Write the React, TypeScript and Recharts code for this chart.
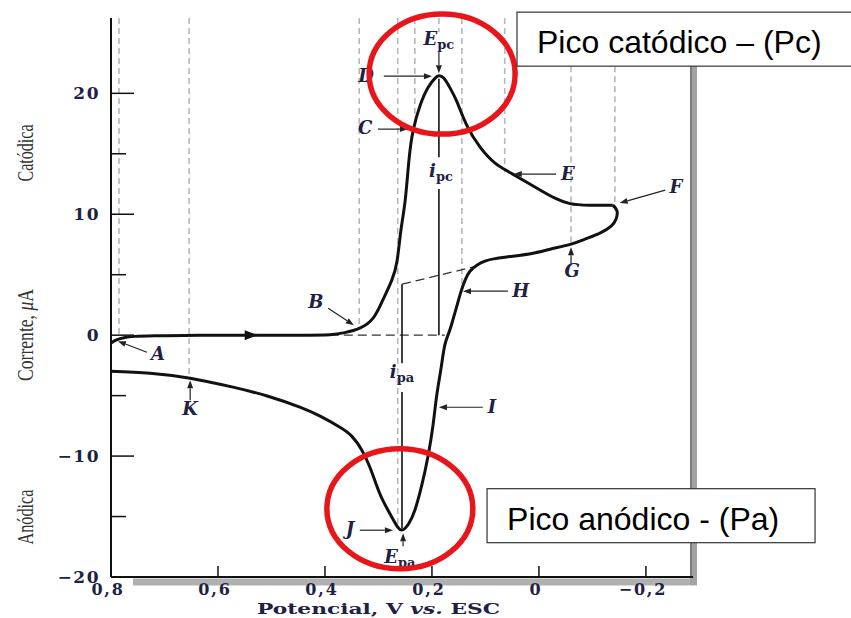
import { ComposedChart, Line, XAxis, YAxis, ReferenceLine, ReferenceDot } from 'recharts'

// varredura direta (catódica), de 0,8 V até o potencial de inversão
const potencialIda = [0.8, 0.791, 0.776, 0.755, 0.708, 0.634, 0.537, 0.447, 0.391, 0.363, 0.335, 0.31, 0.292, 0.275, 0.265, 0.258, 0.25, 0.243, 0.235, 0.222, 0.207, 0.194, 0.187, 0.178, 0.166, 0.153, 0.135, 0.11, 0.082, 0.049, -0.002, -0.03, -0.058, -0.095, -0.138]
const correnteIda = [-0.66, -0.41, -0.21, -0.1, -0.05, 0, 0, 0, 0.04, 0.21, 0.58, 1.41, 2.89, 4.55, 6.2, 8.68, 11.17, 14.48, 16.96, 19.02, 20.51, 21.26, 21.46, 21.26, 20.43, 19.27, 17.37, 15.55, 14.23, 13.32, 12.01, 11.33, 10.88, 10.75, 10.75]

// varredura inversa (anódica), de volta até 0,8 V
const potencialVolta = [-0.138, -0.146, -0.144, -0.135, -0.114, -0.086, -0.06, -0.021, 0.011, 0.049, 0.082, 0.101, 0.116, 0.129, 0.138, 0.146, 0.153, 0.161, 0.168, 0.176, 0.183, 0.191, 0.198, 0.207, 0.219, 0.232, 0.243, 0.254, 0.264, 0.277, 0.292, 0.305, 0.316, 0.331, 0.35, 0.372, 0.409, 0.447, 0.508, 0.572, 0.652, 0.727, 0.8]
const correnteVolta = [10.75, 10.26, 9.59, 9.02, 8.44, 7.94, 7.53, 7.11, 6.78, 6.53, 6.33, 6.12, 5.79, 5.29, 4.55, 3.56, 2.48, 1.24, 0.25, -0.83, -2.73, -4.96, -7.44, -9.93, -12.41, -14.48, -15.55, -16.09, -15.88, -14.89, -13.65, -12.24, -10.92, -9.51, -8.35, -7.61, -6.7, -5.95, -5.03, -4.3, -3.56, -3.14, -2.98]

const xTicks = [0.8, 0.6, 0.4, 0.2, 0, -0.2]
const xTickLabels = ['0,8', '0,6', '0,4', '0,2', '0', '\u22120,2']
const yTicks = [-20, -15, -10, -5, 0, 5, 10, 15, 20]
const yTickLabels: Record<number, string> = { '-20': '\u221220', '-10': '\u221210', 0: '0', 10: '10', 20: '20' }

const X_MIN = -0.288
const X_MAX = 0.8
const Y_MIN = -20
const Y_MAX = 26.23

const ida = potencialIda.map((v, k) => ({ v, i: correnteIda[k] }))
const volta = potencialVolta.map((v, k) => ({ v, i: correnteVolta[k] }))

// linhas-guia verticais tracejadas: [potencial, corrente onde terminam, topo]
const guias: [number, number, number][] = [
    [0.785, 0, Y_MAX],
    [0.654, -3.39, Y_MAX],
    [0.336, 0.83, Y_MAX],
    [0.264, -15.88, Y_MAX],
    [0.232, 17.95, Y_MAX],
    [0.187, 25.06, Y_MAX],
    [0.144, 3.72, Y_MAX],
    [0.064, 13.48, Y_MAX],
    [-0.06, 7.53, 22.25],
    [-0.142, 10.75, 22.25],
]

// setas: [v origem, i origem, v ponta, i ponta]
const setas: [number, number, number, number][] = [
    [0.733, -1.41, 0.787, -0.5],
    [0.652, -5.38, 0.652, -3.72],
    [0.394, 2.23, 0.346, 0.83],
    [0.301, 17.04, 0.245, 17.04],
    [0.29, 21.42, 0.2, 21.42],
    [0.187, 23.41, 0.187, 21.67],
    [-0.032, 13.32, 0.047, 13.32],
    [-0.236, 11.99, -0.151, 10.92],
    [-0.06, 5.87, -0.06, 7.28],
    [0.058, 3.64, 0.142, 3.64],
    [0.105, -5.96, 0.187, -5.96],
    [0.335, -16.13, 0.273, -16.13],
    [0.254, -17.45, 0.254, -16.38],
]

const letras = ['A', 'K', 'B', 'C', 'D', 'E', 'F', 'G', 'H', 'I', 'J']
const letrasV = [0.712, 0.652, 0.417, 0.325, 0.323, -0.054, -0.256, -0.062, 0.034, 0.088, 0.353]
const letrasI = [-2.07, -6.62, 2.23, 16.63, 20.93, 12.82, 11.75, 4.8, 3.14, -6.45, -16.54]

// rótulos de pico: [símbolo, índice, v, i]
const picos: [string, string, number, number][] = [
    ['E', 'pc', 0.187, 23.99],
    ['i', 'pc', 0.183, 13.07],
    ['i', 'pa', 0.256, -3.56],
    ['E', 'pa', 0.26, -18.86],
]

const INK = '#1d2142'
const SERIF = '"DejaVu Serif", "Liberation Serif", serif'

const Arrow = (p: any) => {
    const { x1, y1, x2, y2 } = p
    const a = Math.atan2(y2 - y1, x2 - x1)
    const bx = x2 - 8 * Math.cos(a)
    const by = y2 - 8 * Math.sin(a)
    const s = Math.sin(a) * 3
    const c = Math.cos(a) * 3
    return (
        <g>
            <line x1={x1} y1={y1} x2={bx} y2={by} stroke="#222" strokeWidth={1.2} />
            <polygon points={`${x2},${y2} ${bx - s},${by + c} ${bx + s},${by - c}`} fill="#222" />
        </g>
    )
}

const YTick = ({ x, y, payload }: any) => {
    const major = payload.value % 10 === 0
    return (
        <g>
            <line x1={x} x2={x + (major ? 23 : 15)} y1={y} y2={y} stroke="#111" strokeWidth={1.5} />
            {major && (
                <text x={x - 11} y={y + 6} textAnchor="end" fontFamily={SERIF} fontWeight="bold" fontSize={17} letterSpacing={1.5} fill={INK}>
                    {yTickLabels[payload.value]}
                </text>
            )}
        </g>
    )
}

const XTick = ({ x, y, payload, index }: any) => (
    <g>
        {payload.value !== X_MAX && <line x1={x} x2={x} y1={y} y2={y - 11} stroke="#111" strokeWidth={1.5} />}
        <text x={x - 3} y={y + 18} textAnchor="middle" fontFamily={SERIF} fontWeight="bold" fontSize={16} letterSpacing={1.8} fill={INK}>
            {xTickLabels[index]}
        </text>
    </g>
)

const YTitles = ({ viewBox }: any) => {
    const top = viewBox?.y ?? 18
    const common = { fontFamily: '"Liberation Serif", serif', fontSize: 23, fill: '#333', textAnchor: 'middle' as const, lengthAdjust: 'spacingAndGlyphs' }
    return (
        <g>
            <text {...common} transform={`translate(33 ${top + 135}) rotate(-90)`} textLength={57}>Catódica</text>
            <text {...common} transform={`translate(33 ${top + 317}) rotate(-90)`} textLength={92}>
                Corrente, <tspan fontStyle="italic">μ</tspan>A
            </text>
            <text {...common} transform={`translate(33 ${top + 499}) rotate(-90)`} textLength={55}>Anódica</text>
        </g>
    )
}

const XTitle = ({ viewBox }: any) => {
    const left = viewBox?.x ?? 111
    const top = viewBox?.y ?? 577
    return (
        <text x={left + 146} y={top + 37} fontFamily={SERIF} fontWeight="bold" fontSize={15} fill={INK} textLength={243} lengthAdjust="spacingAndGlyphs">
            Potencial, V <tspan fontStyle="italic">vs.</tspan> ESC
        </text>
    )
}

const ScanArrow = ({ cx, cy }: any) => (
    <polygon points={`${cx - 7},${cy - 5} ${cx + 6},${cy} ${cx - 7},${cy + 5}`} fill="#111" />
)

const Letter = (text: string) => ({ cx, cy }: any) => (
    <text x={cx} y={cy} textAnchor="middle" fontFamily={SERIF} fontStyle="italic" fontWeight="bold" fontSize={18} fill={INK}>
        {text}
    </text>
)

const PeakLabel = (sym: string, sub: string) => ({ cx, cy }: any) => (
    <text x={cx} y={cy} textAnchor="middle" fontFamily={SERIF} fontWeight="bold" fill={INK}>
        <tspan fontStyle="italic" fontSize={18}>{sym}</tspan>
        <tspan fontSize={13} dy={4}>{sub}</tspan>
    </text>
)

const Ring = ({ cx, cy }: any) => (
    <ellipse cx={cx} cy={cy} rx={73} ry={60} fill="none" stroke="#e8161b" strokeWidth={5.5} />
)

const Caption = (text: string, w: number) => ({ cx, cy }: any) => (
    <g>
        <rect x={cx} y={cy - 27} width={w} height={54} fill="#fff" stroke="#333" strokeWidth={1.2} />
        <text x={cx + 20} y={cy + 14} fontFamily='"Liberation Sans", Arial, sans-serif' fontSize={32} fill="#000">{text}</text>
    </g>
)

const Frame = ({ x1, y1, y2 }: any) => (
    <g>
        <rect x={x1 - 3} y={Math.min(y1, y2)} width={7} height={Math.abs(y2 - y1) + 8} fill="#a3a3a3" />
        <line x1={x1 - 2} x2={x1 - 2} y1={y1} y2={y2} stroke="#6f6f6f" strokeWidth={1.5} />
    </g>
)

const FloorShadow = ({ x1, x2, y1 }: any) => (
    <rect x={Math.min(x1, x2) + 22} y={y1 + 1.5} width={Math.abs(x2 - x1) - 18} height={7} fill="#b0b0b0" />
)

const App = () => {
    return (
        <div style={{ position: 'absolute', left: 0, top: 0, width: 851, height: 618, background: '#fff' }}>
            <ComposedChart width={851} height={618} margin={{ top: 18, right: 158, bottom: 0, left: 0 }}>
                <XAxis
                    dataKey="v"
                    type="number"
                    domain={[X_MIN, X_MAX]}
                    allowDataOverflow
                    reversed
                    ticks={xTicks}
                    interval={0}
                    height={41}
                    tickSize={0}
                    tickMargin={0}
                    tickLine={false}
                    tick={<XTick />}
                    axisLine={{ stroke: '#111', strokeWidth: 2 }}
                    label={{ content: <XTitle /> }}
                />
                <YAxis
                    type="number"
                    domain={[Y_MIN, Y_MAX]}
                    allowDataOverflow
                    ticks={yTicks}
                    interval={0}
                    width={111}
                    tickSize={0}
                    tickMargin={0}
                    tickLine={false}
                    tick={<YTick />}
                    axisLine={{ stroke: '#111', strokeWidth: 2 }}
                    label={{ content: <YTitles /> }}
                />

                <ReferenceLine y={Y_MIN} shape={FloorShadow} ifOverflow="visible" />
                <ReferenceLine x={X_MIN} shape={Frame} ifOverflow="visible" />

                {guias.map(([v, low, high], k) => (
                    <ReferenceLine
                        key={`guia-${k}`}
                        segment={[{ x: v, y: high }, { x: v, y: low }]}
                        stroke="#b8b8b8"
                        strokeWidth={1.6}
                        strokeDasharray="6 4"
                        ifOverflow="visible"
                    />
                ))}

                {/* linha de base e extrapolação para as correntes de pico */}
                <ReferenceLine segment={[{ x: 0.391, y: 0 }, { x: 0.176, y: 0 }]} stroke="#333" strokeWidth={1.3} strokeDasharray="9 5" ifOverflow="visible" />
                <ReferenceLine segment={[{ x: 0.256, y: 4.22 }, { x: 0.116, y: 5.71 }]} stroke="#333" strokeWidth={1.3} strokeDasharray="9 5" ifOverflow="visible" />
                <ReferenceLine segment={[{ x: 0.187, y: 21.2 }, { x: 0.187, y: 14.72 }]} stroke="#111" strokeWidth={1.6} ifOverflow="visible" />
                <ReferenceLine segment={[{ x: 0.187, y: 12.08 }, { x: 0.187, y: 0 }]} stroke="#111" strokeWidth={1.6} ifOverflow="visible" />
                <ReferenceLine segment={[{ x: 0.256, y: 4.22 }, { x: 0.256, y: -2.32 }]} stroke="#111" strokeWidth={1.6} ifOverflow="visible" />
                <ReferenceLine segment={[{ x: 0.256, y: -4.71 }, { x: 0.256, y: -15.96 }]} stroke="#111" strokeWidth={1.6} ifOverflow="visible" />

                <Line data={ida} dataKey="i" type="natural" stroke="#111" strokeWidth={3} dot={false} isAnimationActive={false} />
                <Line data={volta} dataKey="i" type="natural" stroke="#111" strokeWidth={3} dot={false} isAnimationActive={false} />

                <ReferenceDot x={0.537} y={0} shape={ScanArrow} ifOverflow="visible" />

                {setas.map(([v1, i1, v2, i2], k) => (
                    <ReferenceLine key={`seta-${k}`} segment={[{ x: v1, y: i1 }, { x: v2, y: i2 }]} shape={Arrow} ifOverflow="visible" />
                ))}
                {letras.map((t, k) => (
                    <ReferenceDot key={`letra-${t}`} x={letrasV[k]} y={letrasI[k]} shape={Letter(t)} ifOverflow="visible" />
                ))}
                {picos.map(([sym, sub, v, i]) => (
                    <ReferenceDot key={`pico-${sym}${sub}`} x={v} y={i} shape={PeakLabel(sym, sub)} ifOverflow="visible" />
                ))}

                <ReferenceDot x={0.181} y={21.59} shape={Ring} ifOverflow="visible" />
                <ReferenceDot x={0.26} y={-14.35} shape={Ring} ifOverflow="visible" />

                <ReferenceDot x={0.041} y={24.48} shape={Caption('Pico catódico \u2013 (Pc)', 340)} ifOverflow="visible" />
                <ReferenceDot x={0.097} y={-14.93} shape={Caption('Pico anódico - (Pa)', 328)} ifOverflow="visible" />
            </ComposedChart>
        </div>
    )
}

export default App
